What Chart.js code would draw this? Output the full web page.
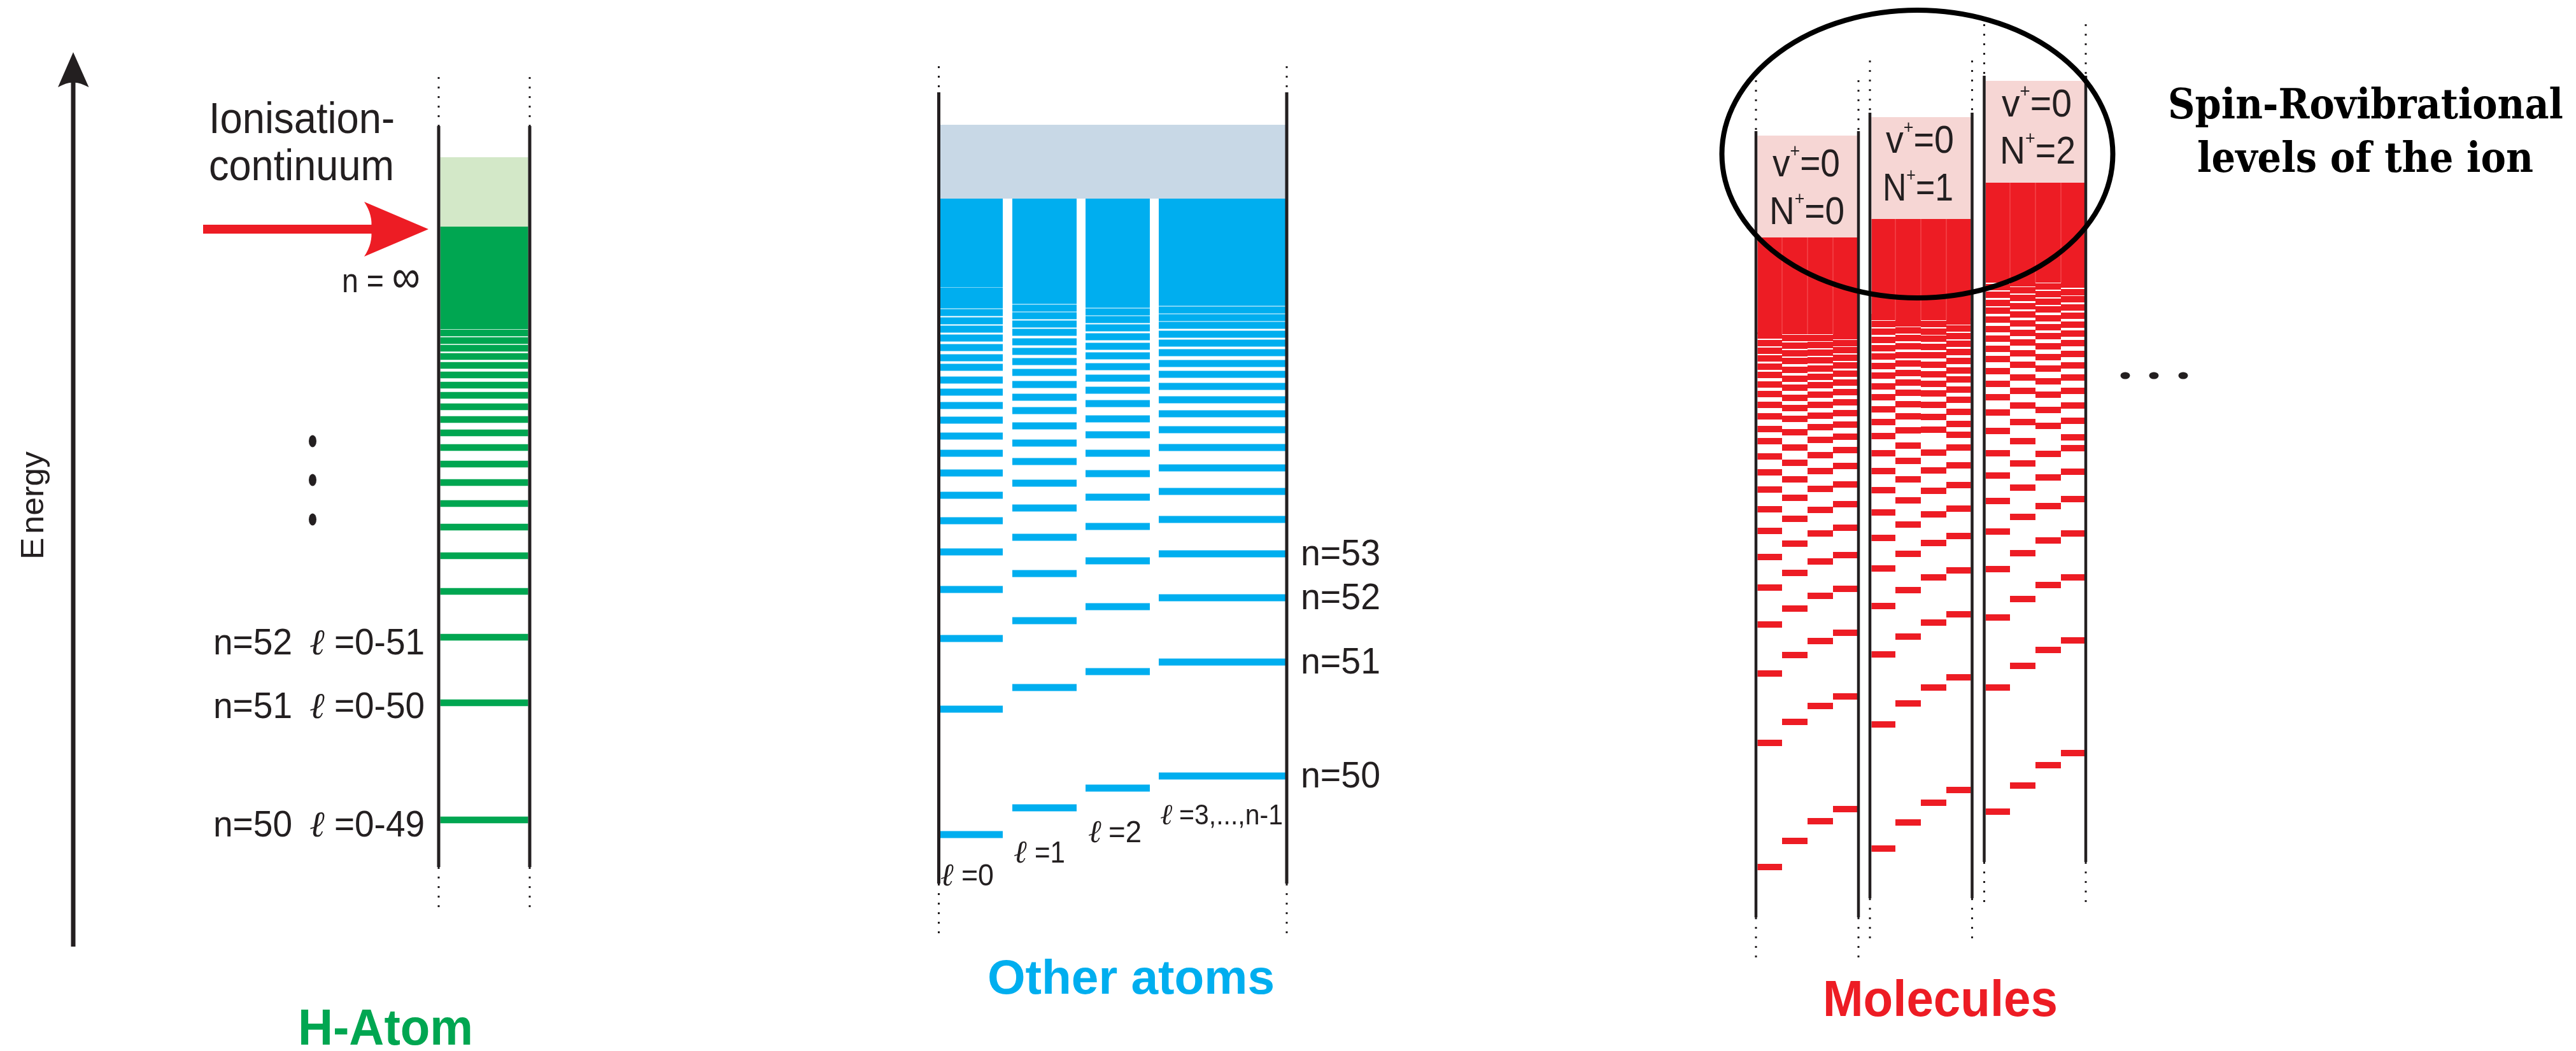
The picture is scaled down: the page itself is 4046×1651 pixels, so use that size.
<!DOCTYPE html>
<html>
<head>
<meta charset="utf-8">
<title>Rydberg levels</title>
<script src="https://cdn.jsdelivr.net/npm/chart.js@4.4.1/dist/chart.umd.min.js"></script>
<style>
    body { margin: 0; background: #fff; }
    canvas { display: block; }
</style>
</head>
<body>
<canvas id="chart1" width="4046" height="1651"></canvas>
<script>
//--------------------------------------DATOS (energia, unidades arbitrarias)
// H: de arriba hacia abajo, el ultimo es n=50
var hLevels = [1128, 1116, 1104, 1091, 1077, 1062, 1046, 1030, 1012, 992, 971, 948, 922, 893, 860, 823, 778, 722, 650, 547, 363];
var hBoundBand = [1134, 1295];
var hContinuum = [1295, 1404];

// otros atomos, una serie por l
var ell0Levels = [1194, 1183, 1172, 1160, 1147, 1134, 1120, 1105, 1089, 1074, 1054, 1035, 1014, 991, 966, 939, 908, 873, 833, 784, 725, 648, 537, 340];
var ell1Levels = [1190, 1179, 1167, 1155, 1142, 1129, 1114, 1099, 1083, 1066, 1047, 1027, 1006, 982, 955, 926, 892, 853, 807, 750, 676, 571, 382];
var ell2Levels = [1195, 1184, 1173, 1161, 1149, 1136, 1122, 1107, 1092, 1075, 1057, 1038, 1017, 993, 968, 939, 907, 870, 824, 770, 698, 596, 413];
var ell3Levels = [1198, 1187, 1176, 1164, 1152, 1140, 1126, 1112, 1097, 1080, 1063, 1044, 1023, 1001, 976, 948, 916, 879, 835, 781, 712, 611, 432];
var atomBandTop = 1339;
var atomBandBottom = [1200, 1195, 1200, 1203];
var atomContinuum = [1339, 1455];
var atomNLabels = ["n=53", "n=52", "n=51", "n=50"];
var atomNLevels = [781, 712, 611, 432];

// moleculas: v+=0, N+=0,1,2 ; cuatro series cada uno
var molN0 = [
    [1124, 1112, 1100, 1088, 1075, 1062, 1047, 1032, 1015, 997, 977, 958, 934, 909, 882, 851, 817, 776, 728, 670, 593, 484, 289],
    [1131, 1120, 1108, 1096, 1084, 1070, 1056, 1042, 1026, 1010, 993, 972, 948, 924, 898, 869, 836, 797, 751, 695, 622, 517, 330],
    [1120, 1109, 1097, 1085, 1072, 1059, 1046, 1031, 1015, 998, 980, 960, 936, 911, 883, 850, 813, 769, 715, 644, 542, 361],
    [1123, 1112, 1101, 1089, 1077, 1064, 1050, 1035, 1019, 1002, 984, 965, 944, 919, 890, 859, 822, 779, 726, 657, 557, 380]
];
var molN1 = [
    [1153, 1142, 1130, 1117, 1104, 1091, 1076, 1061, 1044, 1027, 1008, 988, 966, 939, 911, 881, 846, 806, 758, 699, 623, 513, 318],
    [1154, 1143, 1132, 1120, 1107, 1093, 1080, 1065, 1050, 1034, 1016, 997, 975, 951, 927, 898, 865, 827, 781, 724, 651, 546, 359],
    [1142, 1130, 1119, 1106, 1093, 1078, 1063, 1048, 1033, 1015, 996, 976, 940, 912, 880, 843, 798, 744, 673, 571, 390],
    [1146, 1135, 1123, 1111, 1098, 1084, 1069, 1055, 1039, 1023, 1004, 985, 968, 948, 920, 889, 852, 809, 755, 686, 587, 410]
];
var molN2 = [
    [1212, 1200, 1188, 1175, 1163, 1149, 1134, 1119, 1103, 1087, 1068, 1048, 1027, 1003, 974, 939, 904, 864, 816, 757, 681, 571, 376],
    [1217, 1206, 1195, 1183, 1170, 1157, 1143, 1128, 1113, 1096, 1078, 1058, 1037, 1014, 988, 958, 923, 885, 839, 782, 710, 605, 417],
    [1212, 1201, 1189, 1177, 1165, 1151, 1137, 1123, 1107, 1090, 1072, 1052, 1031, 1007, 982, 938, 901, 856, 802, 732, 630, 449],
    [1204, 1192, 1181, 1168, 1155, 1141, 1127, 1112, 1095, 1077, 1058, 1037, 1014, 990, 964, 947, 910, 867, 813, 744, 645, 468]
];
var molBand = [[1126, 1278], [1148, 1307], [1207, 1364]];
var molIonLevel = [[1278, 1438], [1307, 1467], [1364, 1524]];
var molLabels = [["v", "0", "N", "0"], ["v", "0", "N", "1"], ["v", "0", "N", "2"]];

//--------------------------------------POSICIONES Y ESTILOS
var SANS = "'Liberation Sans', Arial, sans-serif";
var SERIF = "'Liberation Serif', 'Times New Roman', serif";
var SERIF2 = "'DejaVu Serif', 'Liberation Serif', serif";
var VERDE = "#00a651", VERDE_CLARO = "#d3e8c8";
var AZUL = "#00aeef", GRIS = "#c8d8e6";
var ROJO = "#ed1c24", ROSA = "#f6d6d4";
var NEGRO = "#231f20";

var hCol = {frame: [689, 832], levels: [691.5, 829.5], solid: [289, 1453], dotLow: [221, 289], dotHigh: [1453, 1530]};
var atomCol = {frame: [1474.5, 2021], subs: [[1477, 1575], [1590, 1691], [1705, 1806], [1820, 2019]],
    solid: [263, 1506], dotLow: [184, 263], dotHigh: [1506, 1547]};
var molCols = [
    {frame: [2758, 2919], subs: [[2760.5, 2799], [2799, 2839], [2839, 2879], [2879, 2917]],
        solid: [210, 1445], dotLow: [138, 210], dotHigh: [1445, 1525]},
    {frame: [2937, 3097.5], subs: [[2939.5, 2977], [2977, 3017], [3017, 3057], [3057, 3095.5]],
        solid: [240, 1474], dotLow: [167, 240], dotHigh: [1474, 1556]},
    {frame: [3116.5, 3276], subs: [[3119, 3157], [3157, 3197], [3197, 3237], [3237, 3274]],
        solid: [297, 1532], dotLow: [226, 297], dotHigh: [1532, 1613]}
];

//--------------------------------------DATASETS
function segmentos(levels, xr) {
    var pts = [];
    for (var i = 0; i < levels.length; i++) {
        pts.push({x: xr[0], y: levels[i]}, {x: xr[1], y: levels[i]}, {x: xr[1], y: null});
    }
    return pts;
}

function serie(label, levels, xr, color, ancho) {
    return {
        label: label,
        data: segmentos(levels, xr),
        borderColor: color,
        borderWidth: ancho,
        borderCapStyle: 'butt',
        pointRadius: 0,
        tension: 0,
        fill: false,
        spanGaps: false
    };
}

var datasets = [];
datasets.push(serie('H', hLevels, hCol.levels, VERDE, 10.5));
[ell0Levels, ell1Levels, ell2Levels, ell3Levels].forEach(function (lv, i) {
    datasets.push(serie('l=' + i, lv, atomCol.subs[i], AZUL, 11));
});
[molN0, molN1, molN2].forEach(function (grupo, g) {
    grupo.forEach(function (lv, i) {
        datasets.push(serie('N+=' + g + ' s' + i, lv, molCols[g].subs[i], ROJO, 10));
    });
});

//--------------------------------------DIBUJO
function textoAjustado(c, partes, x, base, ancho, color) {
    var total = 0;
    partes.forEach(function (p) {
        c.font = p.f;
        p.w = c.measureText(p.t).width;
        total += p.w;
    });
    c.save();
    c.translate(x, base);
    c.scale(ancho / total, 1);
    c.fillStyle = color;
    c.textBaseline = 'alphabetic';
    c.textAlign = 'left';
    var cx = 0;
    partes.forEach(function (p) {
        c.font = p.f;
        c.fillText(p.t, cx, -(p.dy || 0));
        cx += p.w;
    });
    c.restore();
}

function texto(c, t, x, base, ancho, font, color) {
    textoAjustado(c, [{t: t, f: font}], x, base, ancho, color);
}

function ell(c, x, base, size) {
    c.save();
    c.font = 'italic ' + size + 'px ' + SERIF;
    c.fillStyle = NEGRO;
    c.textBaseline = 'alphabetic';
    c.fillText('\u2113', x, base);
    c.restore();
}

var decoracion = {
    id: 'decoracion',
    beforeDatasetsDraw: function (chart) {
        var c = chart.ctx, sx = chart.scales.x, sy = chart.scales.y;
        function rect(xr, er, color) {
            var x0 = sx.getPixelForValue(xr[0]), x1 = sx.getPixelForValue(xr[1]);
            var y0 = sy.getPixelForValue(er[1]), y1 = sy.getPixelForValue(er[0]);
            c.fillStyle = color;
            c.fillRect(x0, y0, x1 - x0, y1 - y0);
        }
        // H
        rect(hCol.levels, hContinuum, VERDE_CLARO);
        rect(hCol.levels, hBoundBand, VERDE);
        // otros atomos
        rect([atomCol.subs[0][0], atomCol.subs[3][1]], atomContinuum, GRIS);
        atomCol.subs.forEach(function (xr, i) {
            rect(xr, [atomBandBottom[i], atomBandTop], AZUL);
        });
        // moleculas
        molCols.forEach(function (col, g) {
            var xr = [col.subs[0][0], col.subs[3][1]];
            rect(xr, molIonLevel[g], ROSA);
            rect(xr, molBand[g], ROJO);
        });
    },
    afterDatasetsDraw: function (chart) {
        var c = chart.ctx, sx = chart.scales.x, sy = chart.scales.y;
        c.save();

        // separaciones tenues dentro de las bandas rojas
        c.strokeStyle = 'rgba(255, 140, 140, 0.55)';
        c.lineWidth = 1;
        molCols.forEach(function (col, g) {
            for (var i = 1; i < 4; i++) {
                var x = sx.getPixelForValue(col.subs[i][0]);
                c.beginPath();
                c.moveTo(x, sy.getPixelForValue(molBand[g][1]));
                c.lineTo(x, sy.getPixelForValue(molBand[g][0]));
                c.stroke();
            }
        });

        // marcos de columnas
        function marco(col, ancho) {
            col.frame.forEach(function (xv) {
                var x = sx.getPixelForValue(xv);
                c.strokeStyle = NEGRO;
                c.setLineDash([]);
                c.lineWidth = ancho;
                c.beginPath();
                c.moveTo(x, sy.getPixelForValue(col.solid[0]));
                c.lineTo(x, sy.getPixelForValue(col.solid[1]));
                c.stroke();
                c.setLineDash([3, 12]);
                c.lineWidth = 3;
                [col.dotLow, col.dotHigh].forEach(function (r) {
                    c.beginPath();
                    c.moveTo(x, sy.getPixelForValue(r[1]));
                    c.lineTo(x, sy.getPixelForValue(r[0]));
                    c.stroke();
                });
            });
            c.setLineDash([]);
        }
        marco(hCol, 5);
        marco(atomCol, 5);
        molCols.forEach(function (col) { marco(col, 4.5); });

        // eje de energia
        c.strokeStyle = NEGRO;
        c.fillStyle = NEGRO;
        c.lineWidth = 7;
        c.beginPath();
        c.moveTo(115, 1487);
        c.lineTo(115, 128);
        c.stroke();
        c.beginPath();
        c.moveTo(115, 82);
        c.lineTo(139.5, 137);
        c.quadraticCurveTo(122, 128, 115, 130);
        c.quadraticCurveTo(108, 128, 91, 137);
        c.closePath();
        c.fill();
        c.save();
        c.translate(68, 879);
        c.rotate(-Math.PI / 2);
        textoAjustado(c, [{t: 'E', f: '50px ' + SANS}, {t: ' ', f: '20px ' + SANS}, {t: 'nergy', f: '50px ' + SANS}], 0, 0, 170, NEGRO);
        c.restore();

        // flecha roja de ionizacion
        c.fillStyle = ROJO;
        c.fillRect(319, 353, 266, 14);
        c.beginPath();
        c.moveTo(673, 360);
        c.lineTo(572, 317);
        c.quadraticCurveTo(586, 338, 583, 360);
        c.quadraticCurveTo(586, 382, 572, 403);
        c.closePath();
        c.fill();

        // textos H
        texto(c, 'Ionisation-', 328, 209, 292, '68px ' + SANS, NEGRO);
        texto(c, 'continuum', 328, 283, 291, '68px ' + SANS, NEGRO);
        textoAjustado(c, [{t: 'n = ', f: '54px ' + SANS}, {t: '\u221e', f: '72px ' + SANS}], 537, 459, 123, NEGRO);
        var hEtiq = [['n=52', '=0-51', 1028], ['n=51', '=0-50', 1128], ['n=50', '=0-49', 1314]];
        hEtiq.forEach(function (e) {
            texto(c, e[0], 335, e[2], 124, '57px ' + SANS, NEGRO);
            ell(c, 486, e[2], 57);
            texto(c, e[1], 525, e[2], 142, '57px ' + SANS, NEGRO);
        });
        c.fillStyle = NEGRO;
        [693, 754, 816].forEach(function (y) {
            c.beginPath();
            c.ellipse(491, y, 6, 9.5, 0, 0, Math.PI * 2);
            c.fill();
        });
        texto(c, 'H-Atom', 468, 1641, 275, 'bold 80px ' + SANS, VERDE);

        // textos otros atomos
        atomNLabels.forEach(function (t, i) {
            var y = sy.getPixelForValue(atomNLevels[i]) + 18;
            texto(c, t, 2043, y, 125, '58px ' + SANS, NEGRO);
        });
        ell(c, 1477, 1391, 50);
        texto(c, '=0', 1510, 1391, 51, '48px ' + SANS, NEGRO);
        ell(c, 1592, 1355, 50);
        texto(c, '=1', 1625, 1355, 48, '48px ' + SANS, NEGRO);
        ell(c, 1709, 1323, 50);
        texto(c, '=2', 1741, 1323, 52, '48px ' + SANS, NEGRO);
        ell(c, 1822, 1295, 46);
        texto(c, '=3,...,n-1', 1852, 1295, 163, '44px ' + SANS, NEGRO);
        texto(c, 'Other atoms', 1551, 1561, 451, 'bold 76px ' + SANS, AZUL);

        // textos moleculas
        var etiqPos = [
            {x: [2784, 2779], w: [106, 118], b: [277, 352]},
            {x: [2962, 2957], w: [107, 111], b: [240, 315]},
            {x: [3144, 3141], w: [110, 119], b: [183, 257]}
        ];
        molLabels.forEach(function (lb, g) {
            var p = etiqPos[g];
            var f = '62px ' + SANS, fs = '30px ' + SANS;
            textoAjustado(c, [{t: lb[0], f: f}, {t: '+', f: fs, dy: 30}, {t: '=' + lb[1], f: f}], p.x[0], p.b[0], p.w[0], NEGRO);
            textoAjustado(c, [{t: lb[2], f: f}, {t: '+', f: fs, dy: 30}, {t: '=' + lb[3], f: f}], p.x[1], p.b[1], p.w[1], NEGRO);
        });
        c.fillStyle = NEGRO;
        [3338, 3383, 3429].forEach(function (x) {
            c.beginPath();
            c.ellipse(x, 590, 7.5, 5.5, 0, 0, Math.PI * 2);
            c.fill();
        });
        texto(c, 'Molecules', 2863, 1596, 369, 'bold 80px ' + SANS, ROJO);
        texto(c, 'Spin-Rovibrational', 3405, 186, 621, 'bold 66px ' + SERIF2, '#000');
        texto(c, 'levels of the ion', 3451, 270, 528, 'bold 66px ' + SERIF2, '#000');

        // elipse alrededor de los niveles del ion
        c.strokeStyle = '#000';
        c.lineWidth = 8;
        c.beginPath();
        c.ellipse(3011.5, 242, 307, 226, 0, 0, Math.PI * 2);
        c.stroke();

        c.restore();
    }
};

var popCanvas = document.getElementById('chart1');
var diagrama = new Chart(popCanvas, {
    type: 'line',
    data: {datasets: datasets},
    options: {
        responsive: false,
        devicePixelRatio: 1,
        animation: false,
        events: [],
        layout: {padding: 0},
        plugins: {
            legend: {display: false},
            tooltip: {enabled: false}
        },
        scales: {
            x: {type: 'linear', min: 0, max: 4046, display: false},
            y: {type: 'linear', min: 0, max: 1651, display: false}
        }
    },
    plugins: [decoracion]
});
</script>
</body>
</html>
